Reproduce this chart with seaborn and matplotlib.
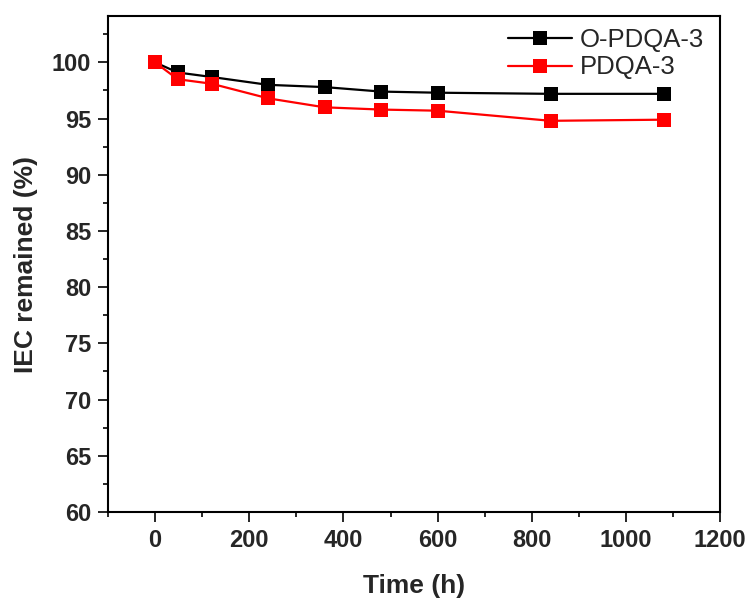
import matplotlib
matplotlib.use("Agg")
import matplotlib.pyplot as plt
import seaborn as sns
import pandas as pd
from matplotlib.ticker import MultipleLocator
from matplotlib import font_manager

time_h = [0, 48, 120, 240, 360, 480, 600, 840, 1080]
o_pdqa3 = [100.0, 99.1, 98.7, 98.0, 97.8, 97.4, 97.3, 97.2, 97.2]
pdqa3 = [100.0, 98.5, 98.1, 96.8, 96.0, 95.8, 95.7, 94.8, 94.9]
series_names = ["O-PDQA-3", "PDQA-3"]
colors = ["#000000", "#ff0000"]

df = pd.DataFrame({
    "Time (h)": time_h * 2,
    "IEC": o_pdqa3 + pdqa3,
    "series": [series_names[0]] * len(time_h) + [series_names[1]] * len(time_h),
})

sns.set_style("ticks")
plt.rcParams['font.family'] = ['Liberation Sans', 'DejaVu Sans']
names = {f.name for f in font_manager.fontManager.ttflist}
narrow = 'Liberation Sans Narrow' if 'Liberation Sans Narrow' in names else 'Liberation Sans'

fig = plt.figure(figsize=(7.55, 6.03), dpi=100)
ax = fig.add_axes([0.143, 0.151, 0.811, 0.822])

sns.lineplot(data=df, x="Time (h)", y="IEC", hue="series", palette=colors,
             marker="s", markersize=10, markeredgewidth=0, linewidth=1.6,
             ax=ax, legend=True)

ax.set_xlim(-100, 1200)
ax.set_ylim(60, 104.1)
ax.xaxis.set_major_locator(MultipleLocator(200))
ax.xaxis.set_minor_locator(MultipleLocator(100))
ax.yaxis.set_major_locator(MultipleLocator(5))
ax.yaxis.set_minor_locator(MultipleLocator(2.5))
ax.tick_params(which="major", direction="out", length=7, width=1.4, pad=5)
ax.tick_params(which="minor", direction="out", length=3.5, width=1.4)
for lab in ax.get_xticklabels() + ax.get_yticklabels():
    lab.set_fontweight("bold")
    lab.set_family([narrow, 'DejaVu Sans'])
    lab.set_fontsize(17)
for sp in ax.spines.values():
    sp.set_visible(True)
    sp.set_linewidth(1.5)
    sp.set_color("black")

ax.set_xlabel("Time (h)", fontsize=19, fontweight="bold", labelpad=16)
ax.set_ylabel("IEC remained (%)", fontsize=19, fontweight="bold", labelpad=10)

leg = ax.legend(frameon=False, loc="upper right", fontsize=18.5,
                handlelength=2.5, handletextpad=0.3, borderaxespad=0.1,
                labelspacing=0.15, bbox_to_anchor=(0.995, 1.003))

fig.savefig("out.png", dpi=100)
